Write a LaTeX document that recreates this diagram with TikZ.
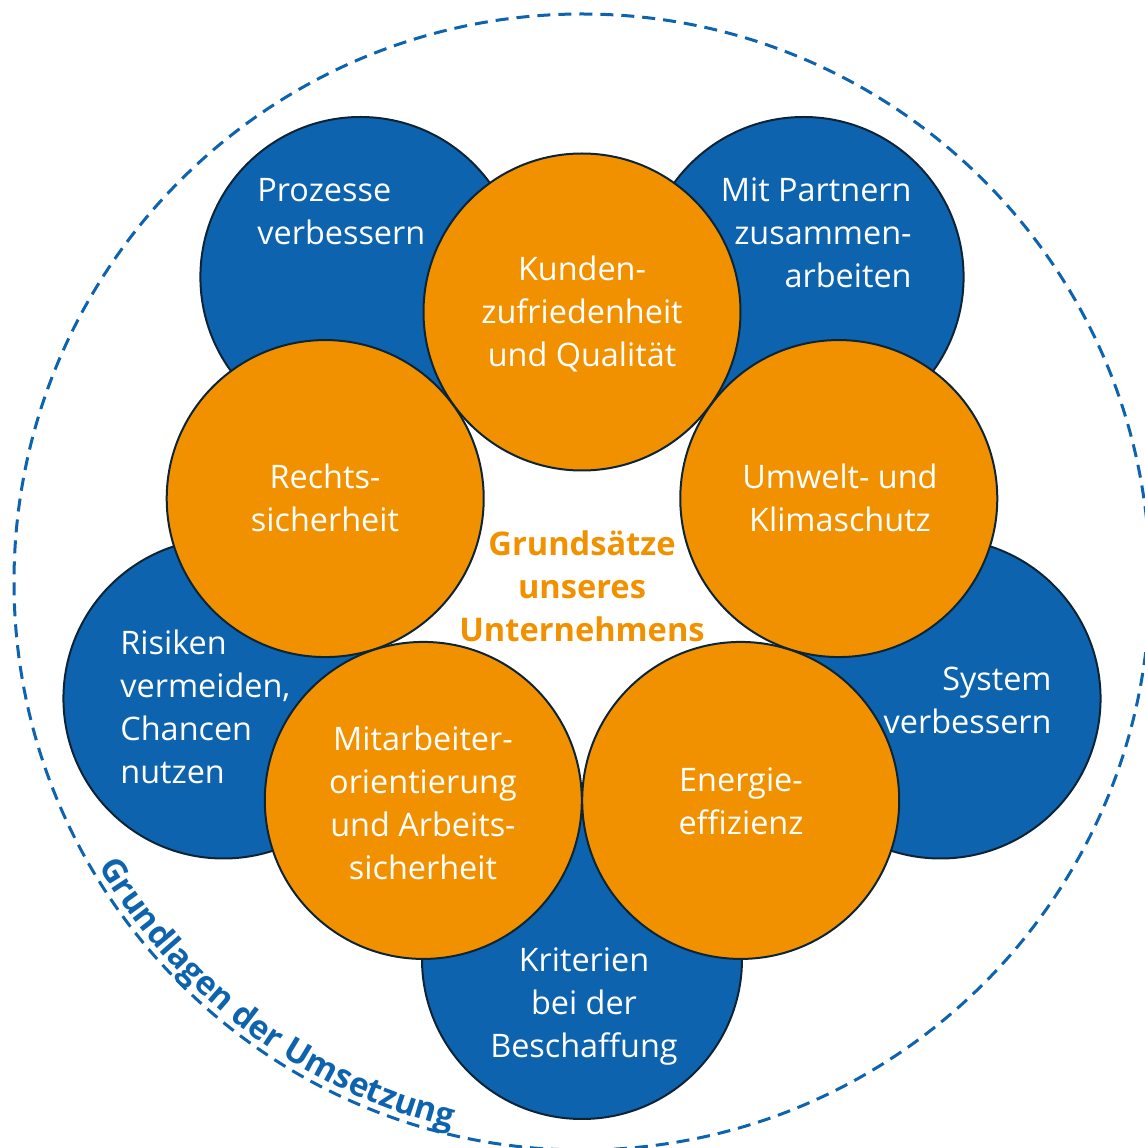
\documentclass[tikz,border=0pt]{standalone}
\usepackage{fontspec}
\setmainfont{Open Sans}
\usetikzlibrary{decorations.text}
\definecolor{myblue}{RGB}{14,99,175}
\definecolor{myorange}{RGB}{242,145,0}
\definecolor{edgecol}{RGB}{12,36,54}
\begin{document}
\begin{tikzpicture}[x=0.5pt,y=0.5pt,
  bluecirc/.style={circle, fill=myblue, draw=edgecol, line width=1pt, minimum size=160pt, inner sep=0pt},
  orangecirc/.style={circle, fill=myorange, draw=edgecol, line width=1pt, minimum size=158.5pt, inner sep=0pt},
  lbl/.style={text=white, inner sep=0pt, font=\fontsize{16.2}{21.5}\selectfont},
  centerlbl/.style={text=myorange, inner sep=0pt, align=center, font=\fontsize{16.3}{21.5}\selectfont\bfseries},
  outerring/.style={circle, draw=myblue, line width=1.5pt, dash pattern=on 6.5pt off 4pt, minimum size=568pt, inner sep=0pt}
]
\useasboundingbox (0,0) rectangle (1145,1148);
\coordinate (C) at (582,566);

\node[outerring] (ring) at (C) {};

% blue circles
\node[bluecirc] (bProz) at ([shift={(126:377)}]C) {};
\node[bluecirc] (bPart) at ([shift={(54:377)}]C) {};
\node[bluecirc] (bSys)  at ([shift={(-18:377)}]C) {};
\node[bluecirc] (bKrit) at ([shift={(270:377)}]C) {};
\node[bluecirc] (bRisk) at ([shift={(198:377)}]C) {};

% orange circles
\node[orangecirc] (oKund) at ([shift={(90:270)}]C) {};
\node[orangecirc] (oRech) at ([shift={(162:270)}]C) {};
\node[orangecirc] (oUmw)  at ([shift={(18:270)}]C) {};
\node[orangecirc] (oMit)  at ([shift={(234:270)}]C) {};
\node[orangecirc] (oEner) at ([shift={(306:270)}]C) {};

% labels
\node[lbl, anchor=west, align=left] (tProz) at (257,936.5) {Prozesse\\verbessern};
\node[lbl, anchor=east, align=right] (tPart) at (912,915) {Mit Partnern\\zusammen-\\arbeiten};
\node[lbl, align=center] (tKund) at (582,834) {Kunden-\\zufriedenheit\\und Qualität};
\node[lbl, align=center] (tRech) at (325,650) {Rechts-\\sicherheit};
\node[lbl, align=center] (tUmw) at (840,650) {Umwelt- und\\Klimaschutz};
\node[centerlbl] (tGrund) at (582,561.5) {Grundsätze\\unseres\\Unternehmens};
\node[lbl, anchor=west, align=left] (tRisk) at (120,441) {Risiken\\vermeiden,\\Chancen\\nutzen};
\node[lbl, anchor=east, align=right] (tSys) at (1052,447.5) {System\\verbessern};
\node[lbl, align=center] (tMit) at (423,345.5) {Mitarbeiter-\\orientierung\\und Arbeits-\\sicherheit};
\node[lbl, align=center] (tEner) at (741,346.5) {Energie-\\effizienz};
\node[lbl, align=center] (tKrit) at (584,141) {Kriterien\\bei der\\Beschaffung};

% curved label
\path[decorate, decoration={text along path, text align=center, text color=myblue,
  text={|\fontsize{16.5}{20}\selectfont\bfseries|Grundlagen der Umsetzung}}]
  ([shift={(203:561)}]C) arc[start angle=203, end angle=264, radius=561];
\end{tikzpicture}
\end{document}
